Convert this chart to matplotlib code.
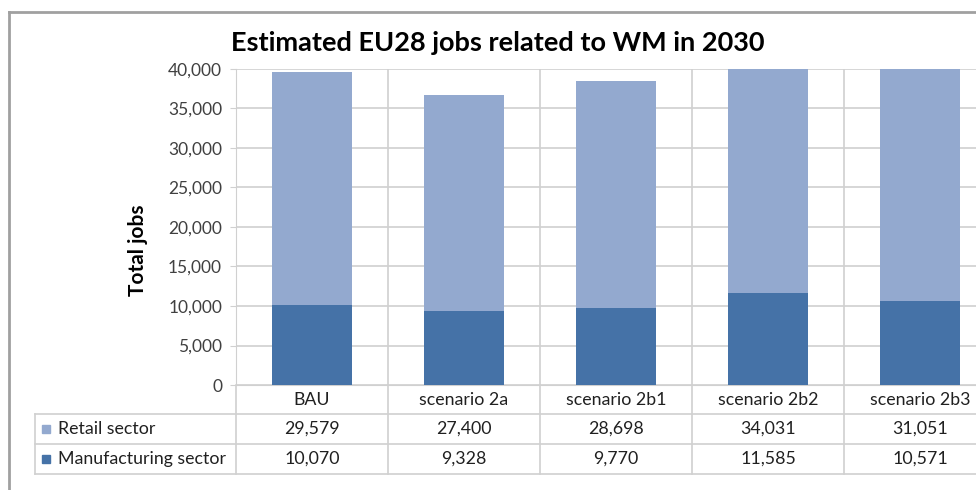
import matplotlib.pyplot as plt
import numpy as np
from matplotlib.lines import Line2D
from matplotlib.patches import Rectangle

categories = ['BAU', 'scenario 2a', 'scenario 2b1', 'scenario 2b2', 'scenario 2b3']
retail = [29579, 27400, 28698, 34031, 31051]
manufacturing = [10070, 9328, 9770, 11585, 10571]
series_names = ['Retail sector', 'Manufacturing sector']
retail_color = '#93a9cf'
manuf_color = '#4572a7'
grid_color = '#d0d0d0'

plt.rcParams['font.family'] = ['Lato', 'DejaVu Sans']

W, H = 976, 490
fig = plt.figure(figsize=(W / 100, H / 100), dpi=100)


def fx(x):
    return x / W


def fy(y):
    return 1 - y / H


# plot area in pixels (right edge runs past the picture, as in the reference)
left, top, bottom, col_w = 236, 69, 385, 152
n = len(categories)
ax = fig.add_axes([fx(left), fy(bottom), (col_w * n) / W, (bottom - top) / H])

x = np.arange(n)
ax.bar(x, manufacturing, width=0.52, color=manuf_color, zorder=3)
ax.bar(x, retail, width=0.52, bottom=manufacturing, color=retail_color, zorder=3)

ax.set_xlim(-0.5, n - 0.5)
ax.set_ylim(0, 40000)
ax.set_yticks(np.arange(0, 40001, 5000))
ax.set_yticklabels([f'{v:,}' for v in range(0, 40001, 5000)], fontsize=12.5, color='#404040')
ax.set_xticks([])
ax.yaxis.grid(True, color=grid_color, linewidth=1.2, zorder=0)
for b in np.arange(0.5, n, 1):
    ax.axvline(b, color=grid_color, linewidth=1.2, zorder=0)
for s in ['top', 'right']:
    ax.spines[s].set_visible(False)
ax.spines['left'].set_color(grid_color)
ax.spines['bottom'].set_color(grid_color)
ax.tick_params(axis='y', length=4, color=grid_color, pad=6)

fig.text(fx(138), fy(250), 'Total jobs', rotation=90, ha='center', va='center',
         fontsize=15, fontweight='bold')
fig.text(fx(498), fy(43), 'Estimated EU28 jobs related to WM in 2030',
         ha='center', va='center', fontsize=19.5, fontweight='bold')

# outer chart border
fig.add_artist(Line2D([fx(9), fx(9)], [fy(12), fy(H)], color='#a0a0a0', lw=2))
fig.add_artist(Line2D([fx(9), fx(W)], [fy(12), fy(12)], color='#a0a0a0', lw=2))

# data table
tbl_left = 35
row_y = [414, 444, 474]
right_edge = left + col_w * n
for yy in row_y:
    fig.add_artist(Line2D([fx(tbl_left), fx(right_edge)], [fy(yy), fy(yy)],
                          color=grid_color, lw=1.2))
fig.add_artist(Line2D([fx(tbl_left), fx(tbl_left)], [fy(row_y[0]), fy(row_y[-1])],
                      color=grid_color, lw=1.2))
for i in range(n + 1):
    xx = left + col_w * i
    fig.add_artist(Line2D([fx(xx), fx(xx)], [fy(bottom), fy(row_y[-1])],
                          color=grid_color, lw=1.2))

fs = 12.8
for i, cat in enumerate(categories):
    cx = left + col_w * (i + 0.5)
    fig.text(fx(cx), fy(400), cat, ha='center', va='center', fontsize=fs, color='#202020')
    fig.text(fx(cx), fy(429), f'{retail[i]:,}', ha='center', va='center', fontsize=fs, color='#202020')
    fig.text(fx(cx), fy(459), f'{manufacturing[i]:,}', ha='center', va='center', fontsize=fs, color='#202020')

for name, color, yc in zip(series_names, [retail_color, manuf_color], [429, 459]):
    fig.add_artist(Rectangle((fx(42), fy(yc + 4)), 8 / W, 8 / H, color=color))
    fig.text(fx(58), fy(yc), name, ha='left', va='center', fontsize=fs, color='#202020')

fig.savefig('out.png', dpi=100)
